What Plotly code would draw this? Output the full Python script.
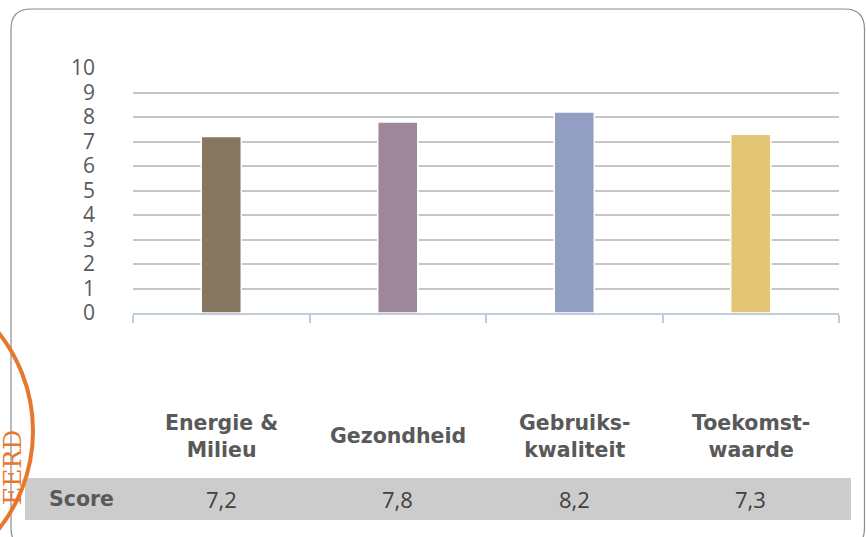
import plotly.graph_objects as go

# ---- data ----
categories = ["Energie &<br>Milieu", "Gezondheid", "Gebruiks-<br>kwaliteit", "Toekomst-<br>waarde"]
scores = [7.2, 7.8, 8.2, 7.3]
bar_colors = ["#877760", "#9D889B", "#939FC2", "#E2C674"]
y_ticks = list(range(0, 11))
row_label = "Score"
stamp_text = "EERD"

# ---- geometry helpers (pixel -> paper) ----
W, H = 866, 537
L, R, T, B = 133, 27, 68, 224
PW = W - L - R
PH = H - T - B


def px(x):
    return (x - L) / PW


def py(y):
    return (H - B - y) / PH


fig = go.Figure()
fig.add_trace(go.Bar(
    x=categories, y=scores,
    marker=dict(color=bar_colors, line=dict(color="white", width=1.5)),
    width=0.227, hoverinfo="skip",
))

shapes = []
# rounded border
x0, x1, y0, y1, r = 11, 864.5, 9, 548, 20
pts = [
    ("M", (x0 + r, y0)), ("L", (x1 - r, y0)), ("Q", (x1, y0), (x1, y0 + r)),
    ("L", (x1, y1 - r)), ("Q", (x1, y1), (x1 - r, y1)), ("L", (x0 + r, y1)),
    ("Q", (x0, y1), (x0, y1 - r)), ("L", (x0, y0 + r)), ("Q", (x0, y0), (x0 + r, y0)),
]
path = ""
for item in pts:
    cmd = item[0]
    path += cmd + " ".join(f"{px(a):.5f},{py(b):.5f}" for a, b in item[1:]) + " "
path += "Z"
shapes.append(dict(type="path", xref="paper", yref="paper", path=path,
                   line=dict(color="#8C8C8C", width=1.2), layer="below"))
# score row band
shapes.append(dict(type="rect", xref="paper", yref="paper",
                   x0=px(25), x1=px(851), y0=py(520), y1=py(478),
                   fillcolor="#CCCCCC", line=dict(width=0), layer="below"))
# stamp circle
cx, cy, cr = -124.6, 431, 157.6
shapes.append(dict(type="circle", xref="paper", yref="paper",
                   x0=px(cx - cr), x1=px(cx + cr), y0=py(cy + cr), y1=py(cy - cr),
                   line=dict(color="#E8772E", width=4), layer="above"))

annotations = []
for c in categories:
    annotations.append(dict(x=c, xref="x", y=py(436), yref="paper", text=c,
                            showarrow=False, xanchor="center", yanchor="middle",
                            font=dict(family="DejaVu Sans", size=20.5, color="#595959", weight="bold")))
for c, v in zip(categories, scores):
    annotations.append(dict(x=c, xref="x", y=py(499), yref="paper",
                            text=f"{v:.1f}".replace(".", ","),
                            showarrow=False, xanchor="center", yanchor="middle",
                            font=dict(family="Open Sans", size=22, color="#404040")))
annotations.append(dict(x=px(81), xref="paper", y=py(499), yref="paper", text=row_label,
                        showarrow=False, xanchor="center", yanchor="middle",
                        font=dict(family="DejaVu Sans", size=20.5, color="#595959", weight="bold")))
annotations.append(dict(x=px(12), xref="paper", y=py(468), yref="paper", text=stamp_text,
                        showarrow=False, xanchor="center", yanchor="middle", textangle=-90,
                        font=dict(family="DejaVu Serif", size=25, color="#E8772E")))

fig.update_layout(
    width=W, height=H,
    margin=dict(l=L, r=R, t=T, b=B, pad=0),
    paper_bgcolor="white", plot_bgcolor="white",
    showlegend=False,
    shapes=shapes, annotations=annotations,
    xaxis=dict(type="category", range=[-0.5, 3.5], showline=True, linecolor="#BFCCDC",
               linewidth=1.5, ticks="outside", tickson="boundaries", ticklen=8,
               tickcolor="#BFCCDC", tickwidth=1.5, showticklabels=False, showgrid=False,
               fixedrange=True),
    yaxis=dict(range=[0, 10], tickvals=y_ticks, showgrid=True, gridcolor="#C6C6C6",
               gridwidth=1.5, zeroline=False, showline=False,
               tickfont=dict(family="Open Sans", size=21, color="#595959"),
               ticklabelstandoff=37, fixedrange=True),
)

fig.write_html("out.html", config={"displayModeBar": False},
               post_script="document.body.style.margin='0px';")
